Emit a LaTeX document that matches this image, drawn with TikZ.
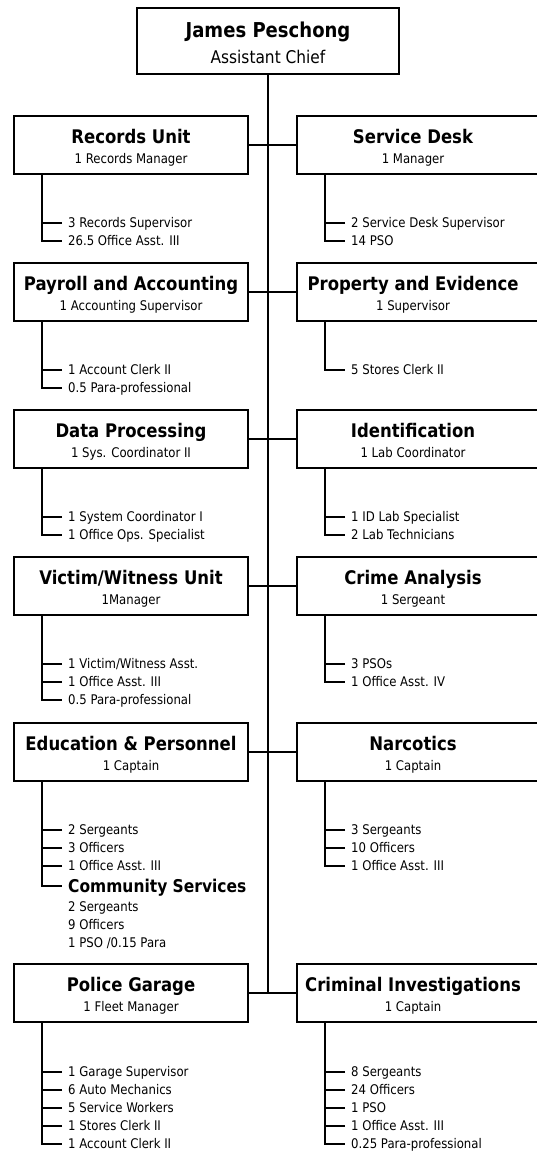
\documentclass[tikz,border=0pt]{standalone}
\usepackage{fontspec}
\setmainfont{DejaVu Sans}[FakeStretch=0.88]
\begin{document}
\begin{tikzpicture}[x=1pt,y=-1pt,
  ln/.style={line width=1.7pt},
  box/.style={draw,line width=1.7pt,minimum width=234pt,minimum height=58pt,inner sep=0pt},
  rbox/.style={box,minimum width=250pt},
  topbox/.style={box,minimum width=262pt,minimum height=66pt},
  ttl/.style={font=\fontsize{18.75}{20}\selectfont\bfseries,inner sep=0pt,text height=13.7pt,text depth=0pt},
  bigttl/.style={font=\fontsize{20.5}{22}\selectfont\bfseries,inner sep=0pt,text height=15pt,text depth=0pt},
  bigsub/.style={font=\fontsize{17.5}{19}\selectfont,inner sep=0pt,text height=12.8pt,text depth=0pt},
  sub/.style={font=\fontsize{13.3}{15}\selectfont,inner sep=0pt,text height=9.7pt,text depth=0pt},
  item/.style={font=\fontsize{13.3}{15}\selectfont,anchor=west,inner sep=0pt,text height=9.7pt,text depth=0pt},
  csttl/.style={font=\fontsize{17.6}{19}\selectfont\bfseries,anchor=west,inner sep=0pt,text height=12.8pt,text depth=0pt},
]
\useasboundingbox (0,0) rectangle (536,1151);

% top
\node[topbox] (top) at (268,41) {};
\node[bigttl] (topT) at (268,30) {James Peschong};
\node[bigsub] (topS) at (268,57) {Assistant Chief};

% boxes
\node[box] (rec) at (131,145) {};
\node[rbox] (svc) at (422,145) {};
\node[box] (pay) at (131,292) {};
\node[rbox] (prop) at (422,292) {};
\node[box] (dp) at (131,439) {};
\node[rbox] (idn) at (422,439) {};
\node[box] (vw) at (131,586) {};
\node[rbox] (ca) at (422,586) {};
\node[box] (ep) at (131,752) {};
\node[rbox] (nar) at (422,752) {};
\node[box] (gar) at (131,993) {};
\node[rbox] (ci) at (422,993) {};

% titles
\node[ttl] (recT) at (131,136.5) {Records Unit};
\node[sub] (recS) at (131,158.5) {1 Records Manager};
\node[ttl] (svcT) at (413,136.5) {Service Desk};
\node[sub] (svcS) at (413,158.5) {1 Manager};
\node[ttl] (payT) at (131,283.5) {Payroll and Accounting};
\node[sub] (payS) at (131,305.5) {1 Accounting Supervisor};
\node[ttl] (propT) at (413,283.5) {Property and Evidence};
\node[sub] (propS) at (413,305.5) {1 Supervisor};
\node[ttl] (dpT) at (131,430.5) {Data Processing};
\node[sub] (dpS) at (131,452.5) {1 Sys. Coordinator II};
\node[ttl] (idnT) at (413,430.5) {Identification};
\node[sub] (idnS) at (413,452.5) {1 Lab Coordinator};
\node[ttl] (vwT) at (131,577.5) {Victim/Witness Unit};
\node[sub] (vwS) at (131,599.5) {1Manager};
\node[ttl] (caT) at (413,577.5) {Crime Analysis};
\node[sub] (caS) at (413,599.5) {1 Sergeant};
\node[ttl] (epT) at (131,743.5) {Education \& Personnel};
\node[sub] (epS) at (131,765.5) {1 Captain};
\node[ttl] (narT) at (413,743.5) {Narcotics};
\node[sub] (narS) at (413,765.5) {1 Captain};
\node[ttl] (garT) at (131,984.5) {Police Garage};
\node[sub] (garS) at (131,1006.5) {1 Fleet Manager};
\node[ttl] (ciT) at (413,984.5) {Criminal Investigations};
\node[sub] (ciS) at (413,1006.5) {1 Captain};

% main connectors
\coordinate (stemEnd) at (top.south |- gar.east);
\draw[ln] (top.south) -- (stemEnd);
\draw[ln] (rec.east) -- (svc.west);
\draw[ln] (pay.east) -- (prop.west);
\draw[ln] (dp.east) -- (idn.west);
\draw[ln] (vw.east) -- (ca.west);
\draw[ln] (ep.east) -- (nar.west);
\draw[ln] (gar.east) -- (ci.west);

% stems
\coordinate (recV) at ([xshift=29pt]rec.south west);
\coordinate (svcV) at ([xshift=29pt]svc.south west);
\coordinate (payV) at ([xshift=29pt]pay.south west);
\coordinate (propV) at ([xshift=29pt]prop.south west);
\coordinate (dpV) at ([xshift=29pt]dp.south west);
\coordinate (idnV) at ([xshift=29pt]idn.south west);
\coordinate (vwV) at ([xshift=29pt]vw.south west);
\coordinate (caV) at ([xshift=29pt]ca.south west);
\coordinate (epV) at ([xshift=29pt]ep.south west);
\coordinate (narV) at ([xshift=29pt]nar.south west);
\coordinate (garV) at ([xshift=29pt]gar.south west);
\coordinate (ciV) at ([xshift=29pt]ci.south west);

% items row 1
\node[item] (rec1) at (68,223) {3 Records Supervisor};
\node[item] (rec2) at (68,241) {26.5 Office Asst. III};
\node[item] (svc1) at (351,223) {2 Service Desk Supervisor};
\node[item] (svc2) at (351,241) {14 PSO};
% row 2
\node[item] (pay1) at (68,370) {1 Account Clerk II};
\node[item] (pay2) at (68,388) {0.5 Para-professional};
\node[item] (prop1) at (351,370) {5 Stores Clerk II};
% row 3
\node[item] (dp1) at (68,517) {1 System Coordinator I};
\node[item] (dp2) at (68,535) {1 Office Ops. Specialist};
\node[item] (idn1) at (351,517) {1 ID Lab Specialist};
\node[item] (idn2) at (351,535) {2 Lab Technicians};
% row 4
\node[item] (vw1) at (68,664) {1 Victim/Witness Asst.};
\node[item] (vw2) at (68,682) {1 Office Asst. III};
\node[item] (vw3) at (68,700) {0.5 Para-professional};
\node[item] (ca1) at (351,664) {3 PSOs};
\node[item] (ca2) at (351,682) {1 Office Asst. IV};
% row 5
\node[item] (ep1) at (68,830) {2 Sergeants};
\node[item] (ep2) at (68,848) {3 Officers};
\node[item] (ep3) at (68,866) {1 Office Asst. III};
\node[csttl] (cs) at (68,886) {Community Services};
\node[item] (cs1) at (68,907) {2 Sergeants};
\node[item] (cs2) at (68,925) {9 Officers};
\node[item] (cs3) at (68,943) {1 PSO /0.15 Para};
\node[item] (nar1) at (351,830) {3 Sergeants};
\node[item] (nar2) at (351,848) {10 Officers};
\node[item] (nar3) at (351,866) {1 Office Asst. III};
% row 6
\node[item] (gar1) at (68,1072) {1 Garage Supervisor};
\node[item] (gar2) at (68,1090) {6 Auto Mechanics};
\node[item] (gar3) at (68,1108) {5 Service Workers};
\node[item] (gar4) at (68,1126) {1 Stores Clerk II};
\node[item] (gar5) at (68,1144) {1 Account Clerk II};
\node[item] (ci1) at (351,1072) {8 Sergeants};
\node[item] (ci2) at (351,1090) {24 Officers};
\node[item] (ci3) at (351,1108) {1 PSO};
\node[item] (ci4) at (351,1126) {1 Office Asst. III};
\node[item] (ci5) at (351,1144) {0.25 Para-professional};

% stems to last items
\draw[ln] (recV) |- ([xshift=-6pt]rec2.west);
\draw[ln] (svcV) |- ([xshift=-6pt]svc2.west);
\draw[ln] (payV) |- ([xshift=-6pt]pay2.west);
\draw[ln] (propV) |- ([xshift=-6pt]prop1.west);
\draw[ln] (dpV) |- ([xshift=-6pt]dp2.west);
\draw[ln] (idnV) |- ([xshift=-6pt]idn2.west);
\draw[ln] (vwV) |- ([xshift=-6pt]vw3.west);
\draw[ln] (caV) |- ([xshift=-6pt]ca2.west);
\draw[ln] (epV) |- ([xshift=-6pt]cs.west);
\draw[ln] (narV) |- ([xshift=-6pt]nar3.west);
\draw[ln] (garV) |- ([xshift=-6pt]gar5.west);
\draw[ln] (ciV) |- ([xshift=-6pt]ci5.west);

% ticks
\foreach \n/\v in {rec1/recV, svc1/svcV, pay1/payV, dp1/dpV, idn1/idnV, vw1/vwV, vw2/vwV, ca1/caV,
  ep1/epV, ep2/epV, ep3/epV, nar1/narV, nar2/narV,
  gar1/garV, gar2/garV, gar3/garV, gar4/garV, ci1/ciV, ci2/ciV, ci3/ciV, ci4/ciV}
  \draw[ln] ([xshift=-6pt]\n.west) -- (\n.west -| \v);
\end{tikzpicture}
\end{document}
